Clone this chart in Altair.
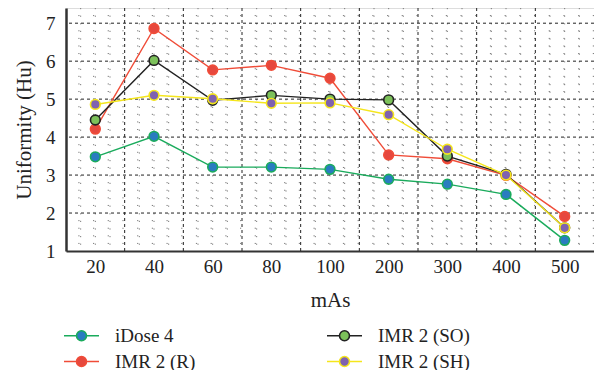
import altair as alt
import pandas as pd
import numpy as np

mas = ["20", "40", "60", "80", "100", "200", "300", "400", "500"]
idose4 = [3.48, 4.02, 3.21, 3.21, 3.15, 2.89, 2.76, 2.49, 1.28]
imr_r = [4.21, 6.86, 5.77, 5.89, 5.55, 3.53, 3.43, 2.99, 1.91]
imr_so = [4.45, 6.02, 4.97, 5.10, 5.00, 4.98, 3.50, 3.02, 1.61]
imr_sh = [4.86, 5.10, 5.01, 4.89, 4.90, 4.59, 3.68, 3.00, 1.61]

series_names = ["iDose 4", "IMR 2 (R)", "IMR 2 (SO)", "IMR 2 (SH)"]
series_vals = [idose4, imr_r, imr_so, imr_sh]
line_colors = {"iDose 4": "#1aab5c", "IMR 2 (R)": "#f04c38", "IMR 2 (SO)": "#222222", "IMR 2 (SH)": "#f5e61c"}
fill_colors = {"iDose 4": "#2a7cc0", "IMR 2 (R)": "#e6483e", "IMR 2 (SO)": "#7cc15a", "IMR 2 (SH)": "#7f62b0"}

rows = []
for k, name in enumerate(series_names):
    for i, v in enumerate(series_vals[k]):
        rows.append({"series": name, "idx": i, "mas": mas[i], "value": v, "z": k})
df = pd.DataFrame(rows)

FONT = "Liberation Serif"
W, H = 528, 243
YMIN, YMAX = 1, 7.4
XMIN, XMAX = -0.5, len(mas) - 0.5

xscale = alt.Scale(domain=[XMIN, XMAX], nice=False, zero=False)
yscale = alt.Scale(domain=[YMIN, YMAX], nice=False, zero=False)

label_expr = "[" + ",".join("'" + m + "'" for m in mas) + "][datum.value]"

xaxis = alt.Axis(
    values=list(range(len(mas))), labelExpr=label_expr, title="mAs",
    grid=False, ticks=False, domain=True, domainColor="#333333", domainWidth=2,
    labelFont=FONT, labelFontSize=19, labelColor="#222222", labelPadding=6,
    titleFont=FONT, titleFontSize=21, titleFontWeight="normal", titleColor="#222222",
    titlePadding=13,
)
yaxis = alt.Axis(
    values=[1, 2, 3, 4, 5, 6, 7], title="Uniformity (Hu)",
    grid=False, ticks=False, domain=True, domainColor="#333333", domainWidth=2.5,
    labelFont=FONT, labelFontSize=19, labelColor="#222222", labelPadding=11,
    titleFont=FONT, titleFontSize=21, titleFontWeight="normal", titleColor="#222222",
    titlePadding=11,
)

# grid lines
minor_y = [round(v, 2) for v in np.arange(1.2, 7.4, 0.2) if abs(v - round(v)) > 1e-6]
major_y = [2, 3, 4, 5, 6, 7]
minor_x = [v for v in np.arange(-0.25, 8.5, 0.25) if abs((v - 0.5) - round(v - 0.5)) > 1e-6]
major_x = [v + 0.5 for v in range(len(mas) - 1)]

minor_h = alt.Chart(pd.DataFrame({"y": minor_y})).mark_rule(
    color="#7a7a7a", strokeWidth=1, strokeDash=[1.2, 13.5]
).encode(y=alt.Y("y:Q", scale=yscale, axis=yaxis))
minor_v = alt.Chart(pd.DataFrame({"x": minor_x})).mark_rule(
    color="#7a7a7a", strokeWidth=1, strokeDash=[1.2, 6.4]
).encode(x=alt.X("x:Q", scale=xscale, axis=xaxis))
major_h = alt.Chart(pd.DataFrame({"y": major_y})).mark_rule(
    color="#222222", strokeWidth=1, strokeDash=[3, 3]
).encode(y=alt.Y("y:Q", scale=yscale, axis=yaxis))
major_v = alt.Chart(pd.DataFrame({"x": major_x})).mark_rule(
    color="#222222", strokeWidth=1, strokeDash=[3, 3]
).encode(x=alt.X("x:Q", scale=xscale, axis=xaxis))

stroke_scale = alt.Scale(domain=series_names, range=[line_colors[s] for s in series_names])
fill_scale = alt.Scale(domain=series_names, range=[fill_colors[s] for s in series_names])

sym = "M-3.5,0L-1,0M1,0L3.5,0M-1,0A1,1 0 1,0 1,0A1,1 0 1,0 -1,0Z"
legend = alt.Legend(
    title=None, orient="none", legendX=6, legendY=318, columns=2,
    values=series_names,
    symbolType=sym, symbolSize=100, symbolStrokeWidth=1.6,
    labelFont=FONT, labelFontSize=19, labelColor="#222222", labelOffset=24,
    columnPadding=127, rowPadding=6, symbolOpacity=1,
)

lines = alt.Chart(df).mark_line(strokeWidth=1.4).encode(
    x=alt.X("idx:Q", scale=xscale, axis=xaxis),
    y=alt.Y("value:Q", scale=yscale, axis=yaxis),
    stroke=alt.Stroke("series:N", scale=stroke_scale, legend=legend),
    detail="series:N",
    order="z:Q",
)

points = alt.Chart(df).mark_point(filled=False, size=95, strokeWidth=1.6, opacity=1, fillOpacity=1, shape="circle").encode(
    x=alt.X("idx:Q", scale=xscale, axis=xaxis),
    y=alt.Y("value:Q", scale=yscale, axis=yaxis),
    stroke=alt.Stroke("series:N", scale=stroke_scale, legend=legend),
    fill=alt.Fill("series:N", scale=fill_scale, legend=legend),
    order="z:Q",
)

layers = []
for s in series_names:
    layers.append(lines.transform_filter(alt.datum.series == s))
    layers.append(points.transform_filter(alt.datum.series == s))

chart = alt.layer(minor_h, minor_v, major_h, major_v, *layers).properties(
    width=W, height=H,
    autosize=alt.AutoSizeParams(type="none"),
    padding={"left": 58, "top": 0, "right": 0, "bottom": 119},
).configure_view(stroke=None).configure(background="white")

chart.save("out.html", embed_options={"renderer": "svg", "actions": False})
